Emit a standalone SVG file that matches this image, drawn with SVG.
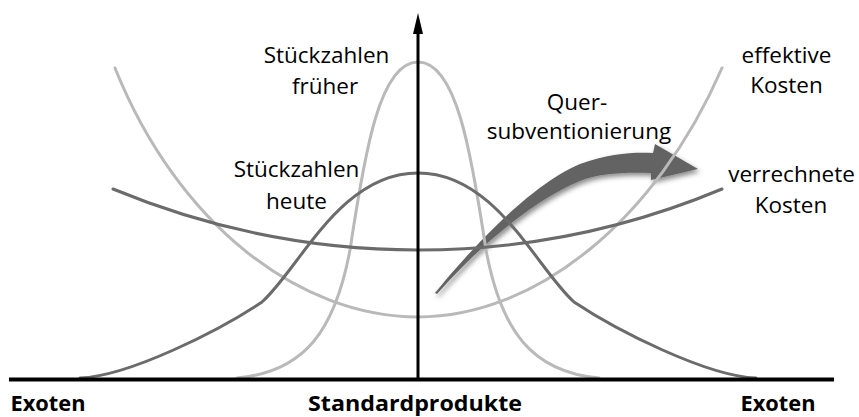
<svg xmlns="http://www.w3.org/2000/svg" width="859" height="417" viewBox="0 0 859 417">
<style>
  .light { fill: none; stroke: #b9b9b9; stroke-width: 3; stroke-linecap: round; }
  .dark { fill: none; stroke: #6b6b6b; stroke-width: 3; stroke-linecap: round; }
  .lbl { font-family: "Open Sans", "Liberation Sans", sans-serif; font-size: 22.5px; fill: #000; text-anchor: middle; }
  .axlbl { font-family: "Open Sans", "Liberation Sans", sans-serif; font-size: 21px; font-weight: bold; fill: #000; text-anchor: middle; }
</style>
<defs>
  <filter id="shadow" x="-20%" y="-20%" width="150%" height="150%">
    <feDropShadow dx="2" dy="3" stdDeviation="2.5" flood-color="#000" flood-opacity="0.45"/>
  </filter>
</defs>
<rect width="859" height="417" fill="#fff"/>

<g id="subvention-arrow">
  <path d="M435,293 C470,250 530,185 580,164 C610,153 635,152 653,153 L655,144 L698,169 L651,180 L651,173 C625,172 600,173 580,181 C535,199 480,245 437,294 Z" fill="#646464" filter="url(#shadow)"/>
</g>

<g id="curves">
  <path id="effektive-kosten" class="light" d="M115,68 C178,225 300,317 418,317 C536,317 656,220 722,68"/>
  <path id="stueckzahlen-frueher" class="light" d="M237,378 C305,372 335,330 350,250 C365,150 380,62 418,62 C456,62 471,150 486,250 C501,330 531,372 599,378"/>
  <path id="verrechnete-kosten" class="dark" d="M113,189 C200,225 300,250 418,250 C536,250 636,225 722,189"/>
  <path id="stueckzahlen-heute" class="dark" d="M80,378 C130,376 220,330 262,302 C300,268 340,173 418,173 C496,173 536,268 574,302 C616,330 706,376 756,378"/>
</g>

<g id="axes">
  <line x1="9" y1="379.5" x2="834" y2="379.5" stroke="#000" stroke-width="4"/>
  <line x1="418" y1="379" x2="418" y2="28" stroke="#000" stroke-width="3"/>
  <polygon points="418,13 423,34 413,34" fill="#000"/>
</g>

<g id="labels">
  <text class="lbl" x="326.5" y="63">Stückzahlen</text>
  <text class="lbl" x="325" y="94">früher</text>
  <text class="lbl" x="296.5" y="177">Stückzahlen</text>
  <text class="lbl" x="296.5" y="209">heute</text>
  <text class="lbl" x="577" y="110">Quer-</text>
  <text class="lbl" x="579" y="139">subventionierung</text>
  <text class="lbl" x="786.5" y="63">effektive</text>
  <text class="lbl" x="786.5" y="93">Kosten</text>
  <text class="lbl" x="791.5" y="182">verrechnete</text>
  <text class="lbl" x="791" y="213">Kosten</text>
  <text class="axlbl" x="48" y="411" textLength="75" lengthAdjust="spacingAndGlyphs">Exoten</text>
  <text class="axlbl" x="415" y="411" textLength="214" lengthAdjust="spacingAndGlyphs">Standardprodukte</text>
  <text class="axlbl" x="778" y="411" textLength="75" lengthAdjust="spacingAndGlyphs">Exoten</text>
</g>
</svg>
